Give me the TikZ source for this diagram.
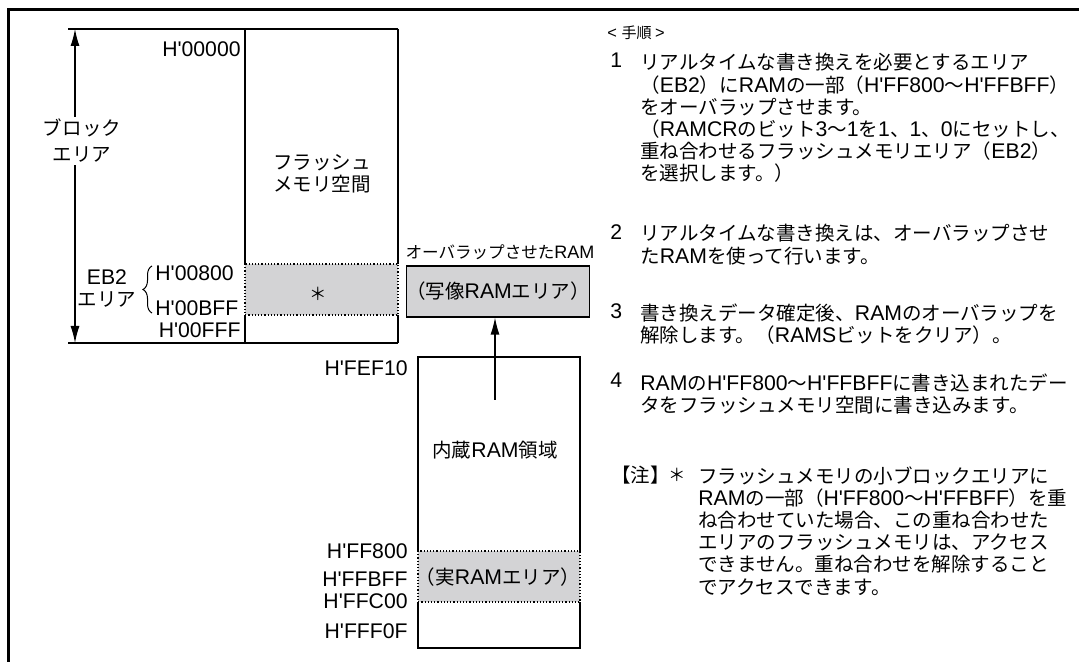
\documentclass[tikz,border=0pt]{standalone}
\usepackage{fontspec}
\newfontfamily\enfont{Liberation Sans}
\newfontfamily\jpfont[Scale=0.92]{Noto Sans CJK JP}
\usetikzlibrary{arrows.meta, decorations.pathreplacing, positioning}
\definecolor{areagray}{RGB}{211, 211, 213}

% Japanese font for kana, kanji and full-width forms
\XeTeXinterchartokenstate=1
\newXeTeXintercharclass\jpclass
\newXeTeXintercharclass\enclass
\newcount\chcode
\newcommand{\setcharclass}[3]{%
  \chcode=#1 \loop \XeTeXcharclass\chcode=#3
  \ifnum\chcode<#2 \advance\chcode by 1 \repeat}
\setcharclass{"21}{"7E}{\enclass}
\setcharclass{"3000}{"30FF}{\jpclass}
\setcharclass{"4E00}{"9FFF}{\jpclass}
\setcharclass{"FF00}{"FFEF}{\jpclass}
\XeTeXinterchartoks 4095 \jpclass = {\jpfont}
\XeTeXinterchartoks \enclass \jpclass = {\jpfont}
\XeTeXinterchartoks 4095 \enclass = {\enfont}
\XeTeXinterchartoks \jpclass \enclass = {\enfont}

\tikzset{
  memline/.style={line width=0.6pt},
  areabox/.style={memline, densely dotted, fill=areagray},
  lbl/.style={font=\enfont\fontsize{10.6}{11}\selectfont, inner sep=0pt, align=center},
  addr/.style={lbl, anchor=east},
  txt/.style={font=\enfont\fontsize{10.6}{11.1}\selectfont, inner sep=0pt, align=left, anchor=north west},
}

\begin{document}
\begin{tikzpicture}[x=0.5pt, y=-0.5pt, font=\enfont, >={Latex[length=8.5pt, width=4.5pt]}]
\useasboundingbox (0,0) rectangle (1081,662);
% Frame
\draw[line width=1.5pt] (8,662) -- (8,10) -- (1079,10);
% Flash memory space
\draw[memline] (68,29) -- (398,29);
\draw[memline] (68,343) -- (398,343);
\draw[memline] (245,29) -- (245,264) (245,315) -- (245,343);
\draw[memline] (398,29) -- (398,264) (398,315) -- (398,343);
\draw[areabox] (245,264) rectangle (398,315);
\node[lbl] (flash) at (322,174) {フラッシュ\\メモリ空間};
\node[lbl, font=\enfont\fontsize{9.5}{11}\selectfont] (star) at (318,294) {＊};
% Block area
\draw[memline, <->] (75,29) -- (75,343);
\node[lbl, fill=white, inner sep=1pt, font=\enfont\fontsize{10.6}{13}\selectfont] (block) at (82,141) {ブロック\\エリア};
\node[lbl] (eb2) at (107,289) {EB2\\エリア};
\draw[line width=0.5pt, decorate, decoration={brace, amplitude=4.5pt}] (152,313) -- (152,266);
% Addresses
\node[addr] (a0) at (241,49) {H'00000};
\node[lbl, anchor=west] (a800) at (155,273) {H'00800};
\node[lbl, anchor=west] (abff) at (155,308) {H'00BFF};
\node[addr] (afff) at (241,330) {H'00FFF};
% Overlapped RAM
\node[lbl, font=\enfont\fontsize{9}{11}\selectfont] (ovltitle) at (500,252) {オーバラップさせたRAM};
\node[lbl, draw, memline, fill=areagray, minimum width=81pt, minimum height=25.5pt] (ovl) at (498,291.5) {（写像RAMエリア）};
% Built-in RAM
\draw[memline] (418,551) -- (418,357) -- (580,357) -- (580,551);
\draw[memline] (418,602) -- (418,648) -- (580,648) -- (580,602);
\draw[areabox] (418,551) rectangle (580,602);
\node[lbl] (ram) at (495,450) {内蔵RAM領域};
\node[lbl] (realram) at (498,577) {（実RAMエリア）};
\foreach \name/\y/\txt in {aef10/368/H'FEF10, af800/551/H'FF800, afbff/579/H'FFBFF, afc00/601/H'FFC00, aff0f/631/H'FFF0F} {
    \node[addr] (\name) at (408,\y) {\txt};
}
\coordinate (ramsrc) at (495,400);
\draw[memline, ->] (ramsrc) -- (ramsrc |- ovl.south);
% Procedure
\node[txt, font=\enfont\fontsize{8.2}{10}\selectfont, anchor=west] (proc) at (607,33) {< 手順 >};
\foreach \n/\y in {1/53, 2/224, 3/303, 4/373} {
    \node[txt] (n\n) at (610,\y) {\n};
}
\node[txt] (s1) at (640,53) {リアルタイムな書き換えを必要とするエリア\\（EB2）にRAMの一部（H'FF800～H'FFBFF）\\をオーバラップさせます。\\（RAMCRのビット3～1を1、1、0にセットし、\\重ね合わせるフラッシュメモリエリア（EB2）\\を選択します。）};
\node[txt] (s2) at (640,224) {リアルタイムな書き換えは、オーバラップさせ\\たRAMを使って行います。};
\node[txt] (s3) at (640,303) {書き換えデータ確定後、RAMのオーバラップを\\解除します。（RAMSビットをクリア）。};
\node[txt] (s4) at (640,373) {RAMのH'FF800～H'FFBFFに書き込まれたデー\\タをフラッシュメモリ空間に書き込みます。};
% Note
\node[txt] (note) at (611,466) {【注】};
\node[txt, anchor=north, font=\enfont\fontsize{9.5}{11}\selectfont] (notestar) at (677,468) {＊};
\node[txt] (notetext) at (698,466) {フラッシュメモリの小ブロックエリアに\\RAMの一部（H'FF800～H'FFBFF）を重\\ね合わせていた場合、この重ね合わせた\\エリアのフラッシュメモリは、アクセス\\できません。重ね合わせを解除すること\\でアクセスできます。};
\end{tikzpicture}
\end{document}
